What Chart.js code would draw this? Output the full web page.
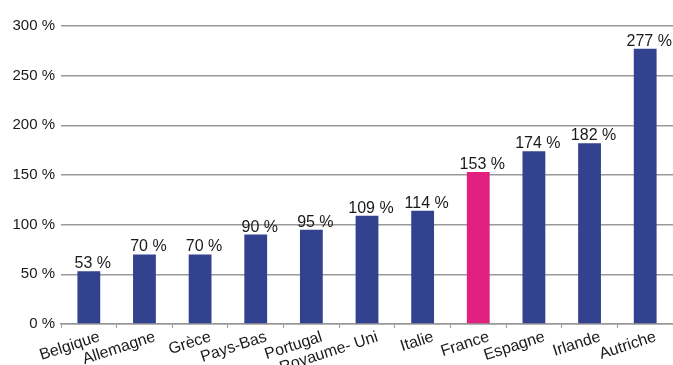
<!DOCTYPE html>
<html>
<head>
<meta charset="utf-8">
<script src="https://cdn.jsdelivr.net/npm/chart.js@4/dist/chart.umd.min.js"></script>
<style>
  html, body { margin: 0; padding: 0; background: #fff; }
  #chart { display: block; }
</style>
</head>
<body>
<canvas id="chart" width="673" height="365"></canvas>
<script>
// Pays et pourcentages
const pays    = ['Belgique', 'Allemagne', 'Grèce', 'Pays-Bas', 'Portugal', 'Royaume- Uni', 'Italie', 'France', 'Espagne', 'Irlande', 'Autriche'];
const valeurs = [53, 70, 70, 90, 95, 109, 114, 153, 174, 182, 277];
const yTicks  = [0, 50, 100, 150, 200, 250, 300];

const BLEU = '#33428f';
const ROSE = '#e2207f';
const TEXTE = '#1a1a1a';
const FONT = "'Liberation Sans', Arial, sans-serif";

const couleurs = pays.map(p => p === 'France' ? ROSE : BLEU);

// écrit "xx %" au-dessus de chaque barre
const valeurLabels = {
  id: 'valeurLabels',
  afterDatasetsDraw(chart) {
    const ctx  = chart.ctx;
    const meta = chart.getDatasetMeta(0);
    ctx.save();
    ctx.font = `16px ${FONT}`;
    ctx.fillStyle = TEXTE;
    ctx.textAlign = 'center';
    ctx.textBaseline = 'alphabetic';
    meta.data.forEach((bar, i) => {
      ctx.fillText(valeurs[i] + ' %', bar.x + 4, bar.y - 3);
    });
    ctx.restore();
  }
};

// noms des pays inclinés, un peu décalés vers la droite du tick
const paysLabels = {
  id: 'paysLabels',
  afterDraw(chart) {
    const ctx = chart.ctx;
    const xs  = chart.scales.x;
    ctx.save();
    ctx.font = `16px ${FONT}`;
    ctx.fillStyle = TEXTE;
    ctx.textAlign = 'right';
    ctx.textBaseline = 'top';
    pays.forEach((p, i) => {
      ctx.save();
      ctx.translate(xs.getPixelForTick(i) + 8, xs.top + 5);
      ctx.rotate(-18 * Math.PI / 180);
      ctx.fillText(p, 0, 0);
      ctx.restore();
    });
    ctx.restore();
  }
};

new Chart(document.getElementById('chart'), {
  type: 'bar',
  data: {
    labels: pays,
    datasets: [{
      data: valeurs,
      backgroundColor: couleurs,
      barPercentage: 0.41,
      categoryPercentage: 1
    }]
  },
  options: {
    responsive: false,
    animation: false,
    layout: { padding: { top: 26, right: 0, left: 0, bottom: 0 } },
    plugins: { legend: { display: false }, tooltip: { enabled: false } },
    scales: {
      x: {
        afterFit: s => { s.height = 41; },
        grid: { display: true, drawOnChartArea: false, drawTicks: true, tickLength: 4, offset: true, color: '#999', lineWidth: 1 },
        border: { display: true, color: '#999', width: 1.5 },
        ticks: { display: false, autoSkip: false }
      },
      y: {
        min: 0,
        max: 300,
        afterFit: s => { s.width = 61; },
        afterBuildTicks: s => { s.ticks = yTicks.map(v => ({ value: v })); },
        grid: { color: '#999', lineWidth: 1.5, drawTicks: false },
        border: { display: false },
        ticks: {
          color: TEXTE,
          font: { family: FONT, size: 15 },
          padding: 6,
          callback: v => v + ' %'
        }
      }
    }
  },
  plugins: [valeurLabels, paysLabels]
});
</script>
</body>
</html>
